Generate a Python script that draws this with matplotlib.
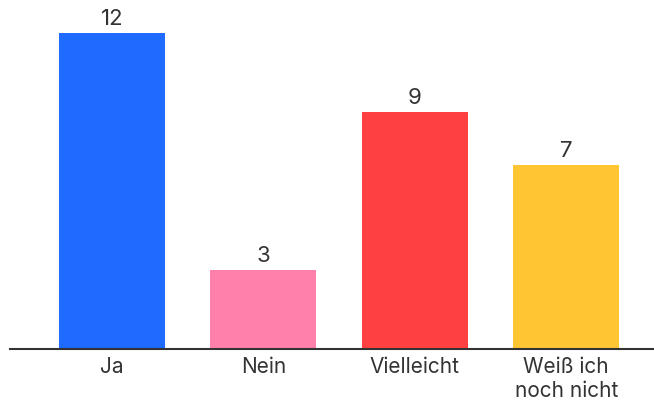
import matplotlib.pyplot as plt

categories = ['Ja', 'Nein', 'Vielleicht', 'Weiß ich\nnoch nicht']
values = [12, 3, 9, 7]
colors = ['#1F6BFF', '#FF80AB', '#FF4040', '#FFC533']

plt.rcParams['font.family'] = ['Inter', 'DejaVu Sans']

fig = plt.figure(figsize=(6.54, 4.0), dpi=100)
ax = fig.add_axes([10 / 654, 51 / 400, 644 / 654, 342 / 400])

x = range(len(categories))
bars = ax.bar(x, values, width=0.7, color=colors)

for b, v in zip(bars, values):
    ax.annotate(str(v), (b.get_x() + b.get_width() / 2, v),
                xytext=(0, 3), textcoords='offset points',
                ha='center', va='bottom', fontsize=16, color='#333333')

ax.set_xlim(-0.674, 3.58)
ax.set_ylim(0, 13)
ax.set_xticks(list(x))
ax.set_xticklabels(categories, fontsize=15, color='#333333', linespacing=1.25)
ax.tick_params(axis='x', length=0, pad=6)
ax.set_yticks([])
for s in ['top', 'right', 'left']:
    ax.spines[s].set_visible(False)
ax.spines['bottom'].set_color('#333333')
ax.spines['bottom'].set_linewidth(1.5)

fig.savefig('out.png', dpi=100)
